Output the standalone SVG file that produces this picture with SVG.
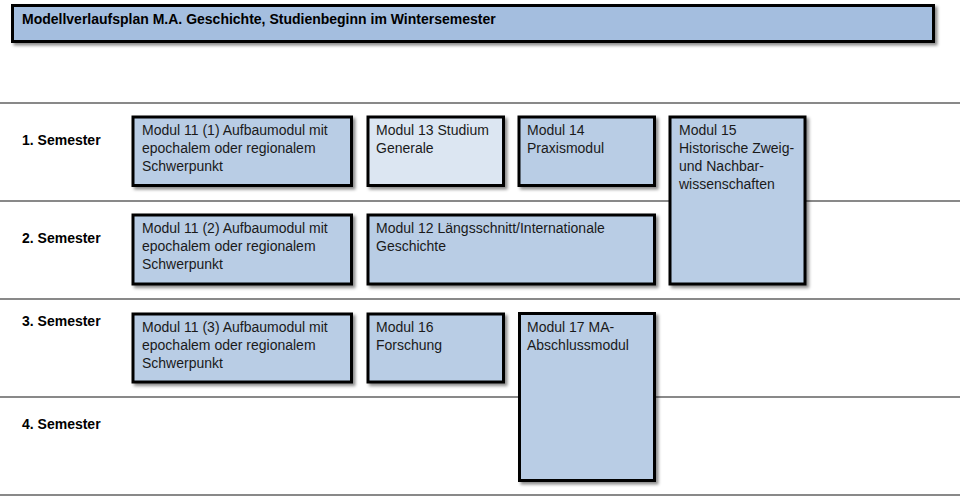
<svg xmlns="http://www.w3.org/2000/svg" width="960" height="497" viewBox="0 0 960 497">
<defs>
<filter id="sh" x="-10%" y="-10%" width="130%" height="130%">
<feDropShadow dx="2.5" dy="2.5" stdDeviation="1.5" flood-color="#000" flood-opacity="0.45"/>
</filter>
<style>
.box{fill:#b9cde5;stroke:#000;stroke-width:3;filter:url(#sh)}
.light{fill:#dce6f2}
.title{fill:#a4bedf}
.sep{stroke:#898989;stroke-width:2}
text{font-family:"Liberation Sans",Arial,sans-serif;font-size:14px;fill:#1a1a1a}
.b{font-weight:bold;fill:#000}
</style>
</defs>
<rect width="960" height="497" fill="#fff"/>
<g id="grid">
<line class="sep" x1="0" y1="103" x2="960" y2="103"/>
<line class="sep" x1="0" y1="201" x2="960" y2="201"/>
<line class="sep" x1="0" y1="299" x2="960" y2="299"/>
<line class="sep" x1="0" y1="397" x2="960" y2="397"/>
<line class="sep" x1="0" y1="495" x2="960" y2="495"/>
</g>
<g id="semesters">
<text class="b" x="22" y="145">1. Semester</text>
<text class="b" x="22" y="243">2. Semester</text>
<text class="b" x="22" y="326">3. Semester</text>
<text class="b" x="22" y="429">4. Semester</text>
</g>
<g id="title">
<rect class="box title" x="12.5" y="5.5" width="921" height="36"/>
<text class="b" x="22" y="24">Modellverlaufsplan M.A. Geschichte, Studienbeginn im Wintersemester</text>
</g>
<g id="m11-1">
<rect class="box" x="133" y="117" width="218.5" height="68.5"/>
<text x="142" y="135">Modul 11 (1) Aufbaumodul mit</text>
<text x="142" y="153">epochalem oder regionalem</text>
<text x="142" y="171">Schwerpunkt</text>
</g>
<g id="m13">
<rect class="box light" x="368" y="117" width="135.5" height="68.5"/>
<text x="376" y="135">Modul 13 Studium</text>
<text x="376" y="153">Generale</text>
</g>
<g id="m14">
<rect class="box" x="519" y="117" width="135.5" height="68.5"/>
<text x="527" y="135">Modul 14</text>
<text x="527" y="153">Praxismodul</text>
</g>
<g id="m15">
<rect class="box" x="670" y="117" width="135" height="167"/>
<text x="679" y="135">Modul 15</text>
<text x="679" y="153">Historische Zweig-</text>
<text x="679" y="171">und Nachbar-</text>
<text x="679" y="189">wissenschaften</text>
</g>
<g id="m11-2">
<rect class="box" x="133" y="215" width="218.5" height="69"/>
<text x="142" y="233">Modul 11 (2) Aufbaumodul mit</text>
<text x="142" y="251">epochalem oder regionalem</text>
<text x="142" y="269">Schwerpunkt</text>
</g>
<g id="m12">
<rect class="box" x="368" y="215" width="286.5" height="69"/>
<text x="376" y="233">Modul 12 Längsschnitt/Internationale</text>
<text x="376" y="251">Geschichte</text>
</g>
<g id="m11-3">
<rect class="box" x="133" y="314" width="218.5" height="68"/>
<text x="142" y="332">Modul 11 (3) Aufbaumodul mit</text>
<text x="142" y="350">epochalem oder regionalem</text>
<text x="142" y="368">Schwerpunkt</text>
</g>
<g id="m16">
<rect class="box" x="368" y="314" width="135.5" height="68"/>
<text x="376" y="332">Modul 16</text>
<text x="376" y="350">Forschung</text>
</g>
<g id="m17">
<rect class="box" x="519.5" y="313.5" width="135" height="167"/>
<text x="527" y="332">Modul 17 MA-</text>
<text x="527" y="350">Abschlussmodul</text>
</g>
<g id="connectors"/>
</svg>
